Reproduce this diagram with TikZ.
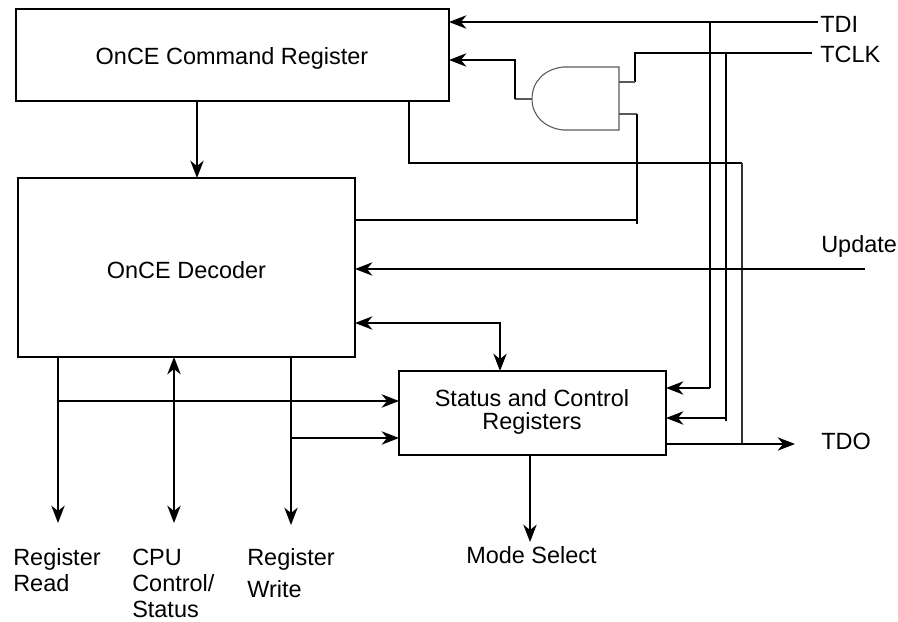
\documentclass[tikz,border=0pt]{standalone}
\usepackage{fontspec}
\setmainfont{Liberation Sans}
\usetikzlibrary{arrows.meta}
\tikzset{
  box/.style={draw=black,line width=1.4pt,rectangle,inner sep=0pt,outer sep=0pt,anchor=north west},
  wire/.style={draw=black,line width=1.4pt},
  thinwire/.style={draw=black!80,line width=1pt},
  arrowwire/.style={wire,-{Stealth[length=13pt,width=10pt,inset=4pt]}},
  dblarrow/.style={wire,{Stealth[length=13pt,width=10pt,inset=4pt]}-{Stealth[length=13pt,width=10pt,inset=4pt]}},
  gateline/.style={draw=black!65,line width=0.8pt},
  lbl/.style={font=\fontsize{17.6}{20}\selectfont,inner sep=0pt,anchor=base},
  leftlbl/.style={lbl,anchor=base west},
}
\begin{document}
\begin{tikzpicture}[x=0.75pt,y=-0.75pt]
\useasboundingbox (0,0) rectangle (898,621);
% boxes
\node[box,minimum width=324.75pt,minimum height=69pt] (cmd) at (16,9) {};
\node[box,minimum width=252.75pt,minimum height=134.25pt] (dec) at (18,178) {};
\node[box,minimum width=200.25pt,minimum height=63pt] (stat) at (399,371) {};
\node[lbl] (cmdt) at (232,64) {OnCE Command Register};
\node[lbl] (dect) at (186.5,278) {OnCE Decoder};
\node[lbl] (statt) at (532,406) {Status and Control};
\node[lbl] (statu) at (532,429) {Registers};
% free labels
\node[leftlbl] (tdi) at (820,32) {TDI};
\node[leftlbl] (tclk) at (820,62) {TCLK};
\node[leftlbl] (upd) at (821,252) {Update};
\node[leftlbl] (tdo) at (821,449) {TDO};
\node[leftlbl] (rr1) at (13,565) {Register};
\node[leftlbl] (rr2) at (13,591.5) {Read};
\node[leftlbl] (cpu1) at (132,565) {CPU};
\node[leftlbl] (cpu2) at (132,591.5) {Control/};
\node[leftlbl] (cpu3) at (132,617.5) {Status};
\node[leftlbl] (rw1) at (247,565) {Register};
\node[leftlbl] (rw2) at (247,597) {Write};
\node[lbl] (ms) at (531.5,563) {Mode Select};
% AND gate
\coordinate (gout) at (532,99);
\coordinate (gtop) at (619,67);
\coordinate (gbot) at (619,130);
\coordinate (gin1) at (619,82);
\coordinate (gin2) at (619,114);
\draw[gateline] (gtop) -- (gbot) -- (563,130) .. controls (545,128) and (532,116) .. (gout)
  .. controls (532,81) and (545,69) .. (563,67) -- cycle;
% junction coordinates
\coordinate (tdiE) at (818,22);
\coordinate (tdiJ) at (710,22);
\coordinate (tdiK) at (710,388);
\coordinate (tclkE) at (812,53);
\coordinate (tclkA) at (635,53);
\coordinate (tclkB) at (635,82);
\coordinate (tclkJ) at (726,53);
\coordinate (tclkK) at (726,421);
\coordinate (tclkL) at (726,418);
\coordinate (a1) at (515,60);
\coordinate (a2) at (515,99);
\coordinate (c1) at (409,163);
\coordinate (c2) at (742,163);
\coordinate (c3) at (742,444);
\coordinate (g2a) at (637,114);
\coordinate (g2b) at (637,224);
\coordinate (g2c) at (637,220);
\coordinate (updE) at (865,269);
\coordinate (b1) at (500,323);
\coordinate (rrJ) at (58,401);
\coordinate (rwJ) at (291,438);
\coordinate (rrE) at (58,523);
\coordinate (cpuE) at (174,523);
\coordinate (rwE) at (291,525);
\coordinate (msE) at (530,542);
\coordinate (tdoE) at (795,444);
% connectors
\draw[arrowwire] (tdiE) -- (tdiE -| cmd.east);
\draw[wire] (tclkE) -- (tclkA) -- (tclkB);
\draw[gateline] (tclkB) -- (gin1);
\draw[gateline] (gout) -- (a2);
\draw[arrowwire] (a2) -- (a1) -- (a1 -| cmd.east);
\draw[gateline] (gin2) -- (g2a);
\draw[wire] (g2a) -- (g2b);
\draw[wire] (g2c) -- (g2c -| dec.east);
\draw[wire] (tdiJ) -- (tdiK);
\draw[arrowwire] (tdiK) -- (tdiK -| stat.east);
\draw[wire] (tclkJ) -- (tclkK);
\draw[arrowwire] (tclkL) -- (tclkL -| stat.east);
\draw[wire] (c1 |- cmd.south) -- (c1) -- (c2);
\draw[thinwire] (c2) -- (c3);
\draw[arrowwire] (stat.east |- tdoE) -- (tdoE);
\draw[arrowwire] (updE) -- (updE -| dec.east);
\draw[dblarrow] (dec.east |- b1) -- (b1) -- (b1 |- stat.north);
\draw[arrowwire] (197,0 |- cmd.south) -- (197,0 |- dec.north);
\draw[arrowwire] (rrE |- dec.south) -- (rrE);
\draw[arrowwire] (rrJ) -- (rrJ -| stat.west);
\draw[dblarrow] (cpuE |- dec.south) -- (cpuE);
\draw[arrowwire] (rwE |- dec.south) -- (rwE);
\draw[arrowwire] (rwJ) -- (rwJ -| stat.west);
\draw[arrowwire] (msE |- stat.south) -- (msE);
\end{tikzpicture}
\end{document}
